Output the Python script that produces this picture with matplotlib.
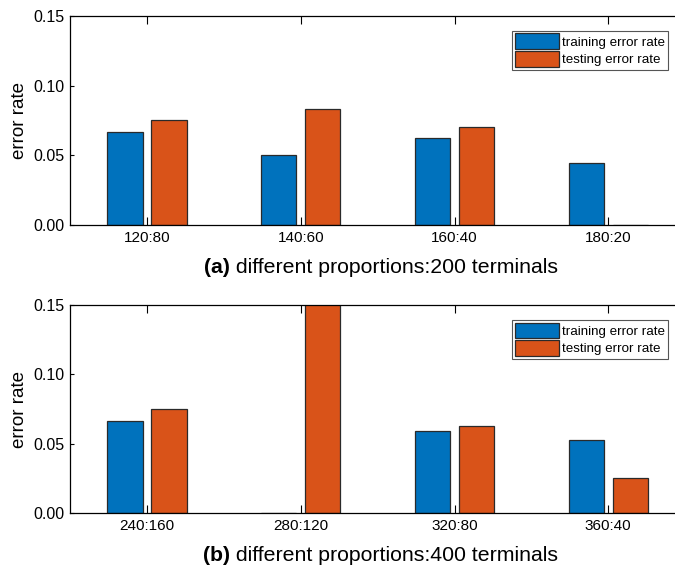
import matplotlib.pyplot as plt
import numpy as np
from matplotlib.offsetbox import TextArea, HPacker, AnnotationBbox

plt.rcParams['font.family'] = ['Liberation Sans', 'DejaVu Sans']

# panel (a): 200 terminals
labels_a = ['120:80', '140:60', '160:40', '180:20']
train_a = [0.0667, 0.0500, 0.0625, 0.0444]
test_a = [0.0750, 0.0833, 0.0700, 0.0]

# panel (b): 400 terminals
labels_b = ['240:160', '280:120', '320:80', '360:40']
train_b = [0.0667, 0.0, 0.0593, 0.0526]
test_b = [0.0750, 0.1600, 0.0625, 0.0250]

BLUE = '#0072BD'
ORANGE = '#D95319'


def draw_panel(ax, labels, train, test, tag, caption):
    x = np.arange(1, len(labels) + 1)
    w = 0.23
    off = 0.143
    ax.bar(x - off, train, w, color=BLUE, edgecolor='#2a2a2a', linewidth=0.9,
           label='training error rate')
    ax.bar(x + off, test, w, color=ORANGE, edgecolor='#2a2a2a', linewidth=0.9,
           label='testing error rate')
    ax.set_xlim(0.5, 4.5)
    ax.set_ylim(0, 0.15)
    ax.set_xticks(x)
    ax.set_xticklabels(labels)
    ax.set_yticks([0, 0.05, 0.10, 0.15])
    ax.set_yticklabels(['0.00', '0.05', '0.10', '0.15'])
    ax.tick_params(axis='x', direction='in', top=True, labelsize=11,
                   length=5.5, width=0.8, pad=4)
    ax.tick_params(axis='y', direction='in', right=True, labelsize=11.5,
                   length=3, width=0.8, pad=4)
    for s in ax.spines.values():
        s.set_linewidth(0.9)
    ax.set_ylabel('error rate', fontsize=13.5, labelpad=4)
    leg = ax.legend(loc='upper right', fontsize=9.6, frameon=True, fancybox=False,
                    edgecolor='#2a2a2a', borderpad=0.22, handlelength=3.3,
                    handleheight=1.4, handletextpad=0.25, labelspacing=0.18,
                    borderaxespad=0.0, bbox_to_anchor=(0.972, 0.93))
    leg.get_frame().set_linewidth(0.8)

    t1 = TextArea(tag, textprops=dict(fontsize=15.3, fontweight='bold'))
    t2 = TextArea(' ' + caption, textprops=dict(fontsize=15.3))
    box = HPacker(children=[t1, t2], align='baseline', pad=0, sep=0)
    ab = AnnotationBbox(box, (0.505, -0.205), xycoords='axes fraction',
                        frameon=False, box_alignment=(0.5, 0.5))
    ax.add_artist(ab)


fig = plt.figure(figsize=(6.75, 5.67), dpi=100)
ax1 = fig.add_axes([0.104, 0.603, 0.911, 0.369])
ax2 = fig.add_axes([0.104, 0.095, 0.911, 0.367])

draw_panel(ax1, labels_a, train_a, test_a, '(a)', 'different proportions:200 terminals')
draw_panel(ax2, labels_b, train_b, test_b, '(b)', 'different proportions:400 terminals')

fig.savefig('out.png', dpi=100)
